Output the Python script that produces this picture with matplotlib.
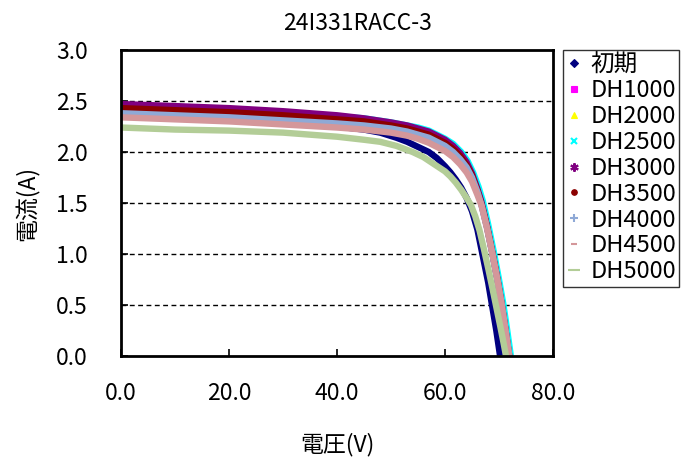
import matplotlib
matplotlib.use("Agg")
import matplotlib.pyplot as plt
from matplotlib.lines import Line2D

plt.rcParams['font.family'] = ['Noto Sans CJK JP', 'DejaVu Sans']

# I-V curves of module 24I331RACC-3 after damp-heat exposure
series_names = ["初期", "DH1000", "DH2000", "DH2500", "DH3000",
                "DH3500", "DH4000", "DH4500", "DH5000"]

v_init = [0, 10, 20, 30, 40, 45, 48, 51, 53, 55, 57, 58.5, 60, 61, 62, 63, 64, 65, 66, 67, 68, 68.7, 69.5, 70.2]
i_init = [2.38, 2.36, 2.33, 2.30, 2.25, 2.22, 2.19, 2.14, 2.10, 2.05, 2.00, 1.94, 1.86, 1.80, 1.73, 1.65, 1.55, 1.42, 1.24, 0.98, 0.72, 0.50, 0.25, 0.0]

v_dh1000 = [0, 10, 20, 30, 40, 45, 50, 53, 55, 57, 58.5, 60, 61.5, 62.8, 64, 65, 66, 66.7, 67.8, 68.8, 69.7, 70.5, 71.2, 71.9]
i_dh1000 = [2.45, 2.43, 2.41, 2.38, 2.34, 2.32, 2.28, 2.25, 2.22, 2.19, 2.15, 2.11, 2.05, 1.98, 1.89, 1.78, 1.63, 1.51, 1.27, 1.01, 0.76, 0.51, 0.26, 0.0]

v_dh2000 = [0, 10, 20, 30, 40, 45, 50, 53, 55, 57, 58.5, 60, 61.5, 62.8, 64, 65, 66, 66.7, 67.8, 68.8, 69.7, 70.5, 71.2, 71.9]
i_dh2000 = [2.45, 2.43, 2.41, 2.38, 2.34, 2.32, 2.28, 2.25, 2.22, 2.19, 2.15, 2.11, 2.05, 1.98, 1.89, 1.78, 1.63, 1.51, 1.27, 1.01, 0.76, 0.51, 0.26, 0.0]

v_dh2500 = [0, 10, 20, 30, 40, 45, 50, 53, 55, 57, 58.5, 60, 61.5, 63, 64.2, 65.2, 66.2, 67, 68, 69, 69.9, 70.8, 71.5, 72.2]
i_dh2500 = [2.46, 2.44, 2.42, 2.39, 2.35, 2.33, 2.29, 2.26, 2.24, 2.21, 2.17, 2.13, 2.08, 2.00, 1.91, 1.80, 1.66, 1.52, 1.29, 1.03, 0.78, 0.51, 0.26, 0.0]

v_dh3000 = [0, 10, 20, 30, 40, 45, 50, 53, 55, 57, 58.5, 60, 61.5, 62.8, 64, 65, 66, 66.7, 67.8, 68.8, 69.7, 70.5, 71.2, 71.9]
i_dh3000 = [2.47, 2.45, 2.43, 2.40, 2.36, 2.33, 2.29, 2.26, 2.23, 2.20, 2.16, 2.12, 2.06, 1.99, 1.90, 1.79, 1.64, 1.52, 1.27, 1.01, 0.76, 0.51, 0.26, 0.0]

v_dh3500 = [0, 10, 20, 30, 40, 45, 50, 53, 55, 57, 58.5, 60, 61.5, 62.8, 64, 65, 66, 66.7, 67.8, 68.8, 69.7, 70.5, 71.2, 71.9]
i_dh3500 = [2.43, 2.41, 2.39, 2.36, 2.32, 2.30, 2.26, 2.23, 2.20, 2.17, 2.13, 2.09, 2.03, 1.96, 1.87, 1.77, 1.62, 1.50, 1.26, 1.00, 0.75, 0.50, 0.25, 0.0]

v_dh4000 = [0, 10, 20, 30, 40, 45, 50, 53, 55, 57, 58.5, 60, 61.5, 62.8, 64, 65, 66, 66.7, 67.8, 68.8, 69.7, 70.5, 71.2, 71.9]
i_dh4000 = [2.38, 2.36, 2.34, 2.31, 2.28, 2.26, 2.23, 2.20, 2.17, 2.14, 2.10, 2.06, 2.00, 1.93, 1.85, 1.75, 1.61, 1.49, 1.25, 0.99, 0.74, 0.50, 0.25, 0.0]

v_dh4500 = [0, 10, 20, 30, 40, 45, 50, 53, 55, 57, 58.5, 60, 61.5, 62.8, 64, 65, 66, 66.8, 67.8, 68.8, 69.7, 70.5, 71.2, 71.9]
i_dh4500 = [2.34, 2.32, 2.30, 2.27, 2.24, 2.22, 2.19, 2.16, 2.13, 2.09, 2.05, 2.01, 1.95, 1.88, 1.80, 1.71, 1.58, 1.47, 1.25, 1.00, 0.75, 0.50, 0.25, 0.0]

v_dh5000 = [0, 10, 20, 30, 40, 45, 48, 51, 54, 56, 58, 60, 61, 62, 63, 64, 64.8, 65.6, 66.4, 67.2, 68, 68.8, 69.5, 70.2, 70.8, 71.3]
i_dh5000 = [2.24, 2.22, 2.21, 2.19, 2.15, 2.12, 2.10, 2.06, 2.00, 1.95, 1.88, 1.81, 1.76, 1.70, 1.63, 1.55, 1.48, 1.37, 1.23, 1.05, 0.86, 0.66, 0.48, 0.30, 0.14, 0.0]

voltages = [v_init, v_dh1000, v_dh2000, v_dh2500, v_dh3000,
            v_dh3500, v_dh4000, v_dh4500, v_dh5000]
currents = [i_init, i_dh1000, i_dh2000, i_dh2500, i_dh3000,
            i_dh3500, i_dh4000, i_dh4500, i_dh5000]

colors = ["#000080", "#FF00FF", "#FFFF00", "#00FFFF", "#800080",
          "#8B0000", "#8FA9D6", "#D4979A", "#B3CD97"]
markers = ["D", "s", "^", "x", (6, 2, 0), "o", "+", "_", "_"]
marker_sizes = [4, 4, 5, 5, 6, 4, 6, 5, 8]

x_ticks = [0, 20, 40, 60, 80]
y_ticks = [0.0, 0.5, 1.0, 1.5, 2.0, 2.5, 3.0]

fig = plt.figure(figsize=(6.85, 4.67), dpi=100)
fig.patch.set_facecolor("white")
ax = fig.add_axes([121 / 685, 1 - 356 / 467, 432 / 685, 306 / 467])

for v, i, c in zip(voltages, currents, colors):
    ax.plot(v, i, color=c, lw=4.6, solid_capstyle="butt", solid_joinstyle="round",
            clip_on=False, zorder=3)

ax.set_xlim(0, 80)
ax.set_ylim(0, 3.0)
ax.set_xticks(x_ticks)
ax.set_yticks(y_ticks)
ax.set_xticklabels([f"{t:.1f}" for t in x_ticks])
ax.set_yticklabels([f"{t:.1f}" for t in y_ticks])
ax.tick_params(direction="in", length=5, width=1.2, labelsize=16.5, colors="black")
ax.tick_params(axis="x", pad=19)
ax.tick_params(axis="y", pad=24)
ax.tick_params(top=False, right=False)

for y in y_ticks[1:-1]:
    ax.axhline(y, color="black", lw=1.0, ls=(0, (3.5, 2.5)), zorder=1)

for s in ax.spines.values():
    s.set_linewidth(2.0)
    s.set_color("black")
    s.set_zorder(4)

ax.set_xlabel("電圧(V)", fontsize=16.5, labelpad=20)
ax.set_ylabel("電流(A)", fontsize=16.5, labelpad=12)

fig.text(358 / 685, 1 - 23 / 467, "24I331RACC-3", ha="center", va="center", fontsize=16.5)

handles = [Line2D([], [], ls="none", marker=m, color=c, markersize=ms,
                  markeredgewidth=1.5 if m in ("x", "+", "_", (6, 2, 0)) else 0.8)
           for m, c, ms in zip(markers, colors, marker_sizes)]
leg = fig.legend(handles, series_names, loc="upper left",
                 bbox_to_anchor=(563 / 685, 1 - 50 / 467),
                 fontsize=17, frameon=True, fancybox=False, edgecolor="black",
                 handlelength=0.6, handletextpad=0.4, labelspacing=0.12,
                 borderpad=0.15, borderaxespad=0)
leg.get_frame().set_linewidth(1.0)

fig.savefig("out.png", dpi=100, facecolor="white")
